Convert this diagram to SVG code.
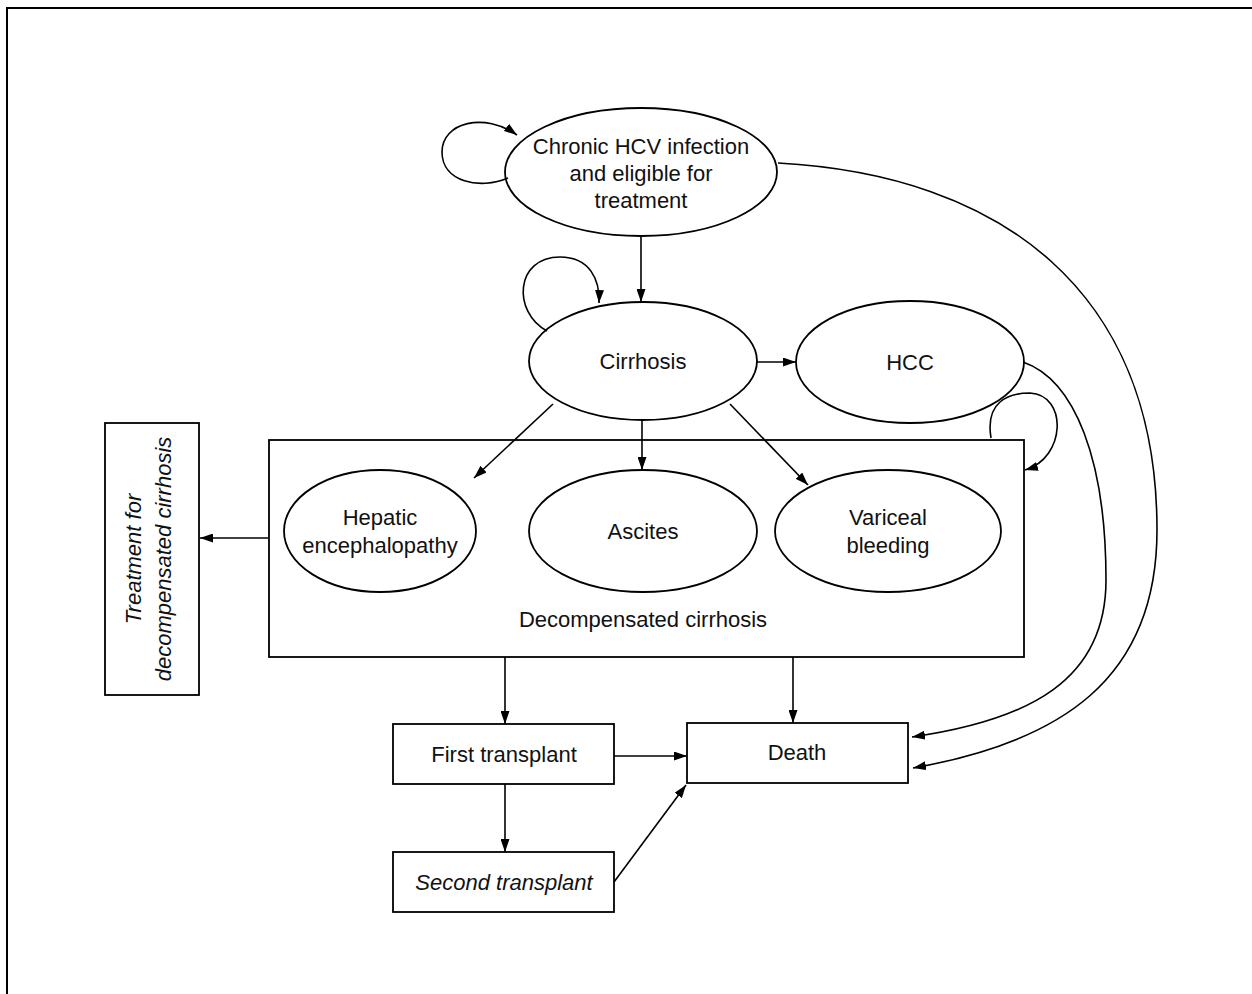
<svg xmlns="http://www.w3.org/2000/svg" width="1252" height="994" viewBox="0 0 1252 994">
<style>
.n{fill:#fff;stroke:#000;stroke-width:1.8}
.t{font-family:"Liberation Sans",Arial,sans-serif;font-size:22px;fill:#111;text-anchor:middle}
.i{font-style:italic}
.c{fill:none;stroke:#000;stroke-width:1.6;marker-end:url(#ah)}
</style>
<defs>
<marker id="ah" viewBox="0 0 13 9" refX="13" refY="4.5" markerWidth="13" markerHeight="9" markerUnits="userSpaceOnUse" orient="auto">
<path d="M0,0 L13,4.5 L0,9 Z" fill="#000"/>
</marker>
</defs>
<rect width="1252" height="994" fill="#fff"/>
<path d="M7,994 V8 H1252" fill="none" stroke="#000" stroke-width="2"/>

<g id="decomp">
<rect class="n" x="269" y="440" width="755" height="217"/>
<text class="t" x="643" y="627">Decompensated cirrhosis</text>
</g>
<g id="hcv">
<ellipse class="n" cx="641" cy="172" rx="136" ry="64"/>
<text class="t" x="641" y="154">Chronic HCV infection</text>
<text class="t" x="641" y="181">and eligible for</text>
<text class="t" x="641" y="208">treatment</text>
</g>
<g id="cirrhosis">
<ellipse class="n" cx="643" cy="361" rx="114" ry="59"/>
<text class="t" x="643" y="369">Cirrhosis</text>
</g>
<g id="hcc">
<ellipse class="n" cx="910" cy="362" rx="114" ry="61"/>
<text class="t" x="910" y="370">HCC</text>
</g>
<g id="he">
<ellipse class="n" cx="380" cy="531" rx="96" ry="61"/>
<text class="t" x="380" y="525">Hepatic</text>
<text class="t" x="380" y="553">encephalopathy</text>
</g>
<g id="ascites">
<ellipse class="n" cx="643" cy="531" rx="114" ry="61"/>
<text class="t" x="643" y="539">Ascites</text>
</g>
<g id="vb">
<ellipse class="n" cx="888" cy="531" rx="113" ry="61"/>
<text class="t" x="888" y="525">Variceal</text>
<text class="t" x="888" y="553">bleeding</text>
</g>
<g id="treatment">
<rect class="n" x="105" y="423" width="94" height="272"/>
<text class="t i" transform="translate(141,559) rotate(-90)">Treatment for</text>
<text class="t i" transform="translate(171,559) rotate(-90)">decompensated cirrhosis</text>
</g>
<g id="first">
<rect class="n" x="393" y="724" width="221" height="60"/>
<text class="t" x="504" y="762">First transplant</text>
</g>
<g id="second">
<rect class="n" x="393" y="852" width="221" height="60"/>
<text class="t i" x="504" y="890">Second transplant</text>
</g>
<g id="death">
<rect class="n" x="687" y="723" width="221" height="60"/>
<text class="t" x="797" y="760">Death</text>
</g>

<g id="connectors">
<path class="c" d="M508,178 C480,190 442,182 442,152 C442,122 485,112 517,135"/>
<path class="c" d="M641,236 V302"/>
<path class="c" d="M547,331 C512,312 515,257 560,257 C590,257 600,280 599,303"/>
<path class="c" d="M757,362 H796"/>
<path class="c" d="M553,404 L474,478"/>
<path class="c" d="M642,420 V470"/>
<path class="c" d="M730,404 L808,485"/>
<path class="c" d="M991,438 C985,402 1008,393 1030,393 C1068,395 1066,458 1025,470"/>
<path class="c" d="M268,538 H200"/>
<path class="c" d="M505,657 V724"/>
<path class="c" d="M505,784 V852"/>
<path class="c" d="M793,657 V723"/>
<path class="c" d="M614,756 H687"/>
<path class="c" d="M614,882 L686,785"/>
<path class="c" d="M778,163 C1000,175 1157,290 1157,530 C1157,680 1060,742 913,768"/>
<path class="c" d="M1023,362 C1075,380 1106,460 1106,580 C1106,680 1030,720 912,737"/>
</g>
</svg>
